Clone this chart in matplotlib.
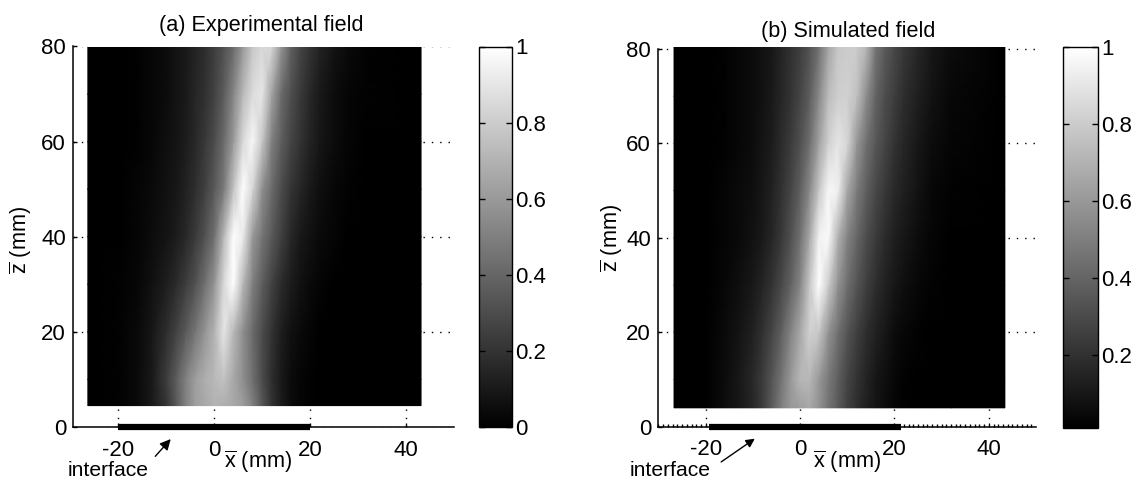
from matplotlib import pyplot as plt
import matplotlib
import numpy as np

matplotlib.rcParams.update({'font.family': 'Liberation Sans', 'font.size': 13,
                            'axes.unicode_minus': False,
                            'mathtext.fontset': 'custom',
                            'mathtext.rm': 'Liberation Sans',
                            'mathtext.it': 'Liberation Sans'})

# columns of the fields (mm), edges differ per panel
x_inner = [-20, -16, -13, -10, -8, -6, -4, -2, 0, 2, 4, 6, 8, 10, 12, 14, 16, 18, 20, 22, 25, 28, 32]
x_edges_a = [-26.4, 43.2]
x_edges_b = [-26.7, 43.4]
z_rows_a = [4.5, 10, 20, 30, 40, 50, 60, 70, 80]
z_rows_b = [4, 10, 20, 30, 40, 50, 60, 70, 80.5]

# (a) experimental, read by eye row by row
a_z4 = [0, .01, .04, .10, .20, .34, .50, .62, .66, .70, .68, .66, .62, .50, .34, .20, .11, .05, .02, .01, 0, 0, 0, 0, 0]
a_z10 = [0, .01, .04, .10, .24, .36, .50, .62, .68, .72, .76, .66, .56, .44, .30, .18, .10, .05, .02, .01, 0, 0, 0, 0, 0]
a_z20 = [0, .01, .04, .09, .18, .26, .35, .46, .58, .70, .90, .72, .56, .42, .30, .20, .12, .07, .04, .02, 0, 0, 0, 0, 0]
a_z30 = [0, .01, .03, .07, .12, .17, .24, .32, .44, .58, .85, 1, .72, .50, .37, .26, .17, .11, .07, .04, .02, 0, 0, 0, 0]
a_z40 = [0, 0, .02, .05, .08, .11, .16, .23, .32, .44, .72, 1, .92, .60, .46, .35, .25, .16, .10, .07, .04, .02, 0, 0, 0]
a_z50 = [0, 0, .02, .04, .07, .09, .13, .18, .25, .35, .48, .76, 1, .84, .56, .42, .30, .21, .15, .10, .06, .03, .01, 0, 0]
a_z60 = [0, 0, .01, .03, .06, .08, .11, .16, .22, .30, .42, .60, .85, .97, .78, .50, .37, .27, .20, .14, .09, .05, .02, 0, 0]
a_z70 = [0, 0, .01, .03, .05, .08, .10, .15, .19, .26, .36, .52, .72, .86, .90, .64, .42, .31, .23, .16, .10, .05, .02, .01, 0]
a_z80 = [0, 0, .01, .03, .05, .08, .10, .14, .18, .24, .32, .42, .60, .78, .85, .84, .58, .38, .27, .20, .14, .08, .04, .01, 0]

# (b) simulated
b_z4 = [0, .01, .06, .10, .16, .24, .36, .50, .60, .62, .66, .58, .46, .36, .26, .19, .13, .09, .06, .03, .02, .01, 0, 0, 0]
b_z10 = [0, .01, .06, .10, .17, .24, .34, .46, .60, .72, .72, .60, .48, .38, .28, .21, .15, .10, .07, .04, .02, .01, 0, 0, 0]
b_z20 = [0, .01, .05, .09, .14, .20, .28, .38, .52, .66, .82, .78, .58, .45, .34, .26, .19, .14, .10, .06, .04, .02, .01, 0, 0]
b_z30 = [0, .01, .04, .07, .11, .15, .21, .29, .39, .53, .78, 1, .80, .58, .44, .34, .26, .19, .14, .10, .07, .04, .02, .01, 0]
b_z40 = [0, .01, .03, .05, .08, .11, .16, .23, .32, .45, .66, .95, .98, .70, .52, .41, .31, .24, .18, .13, .10, .06, .03, .01, 0]
b_z50 = [0, .01, .03, .05, .07, .10, .14, .20, .28, .38, .54, .78, .97, .94, .66, .49, .38, .29, .23, .17, .13, .08, .04, .02, 0]
b_z60 = [0, .01, .02, .04, .06, .09, .12, .18, .24, .32, .44, .64, .82, .90, .84, .60, .45, .35, .28, .21, .16, .10, .06, .03, 0]
b_z70 = [0, 0, .02, .04, .06, .08, .11, .16, .21, .28, .37, .54, .74, .81, .82, .76, .56, .40, .31, .25, .19, .13, .08, .04, 0]
b_z80 = [0, 0, .02, .04, .06, .08, .10, .15, .20, .25, .33, .45, .65, .78, .80, .80, .72, .47, .36, .29, .23, .16, .10, .06, 0]

x_ticks = [-20, 0, 20, 40]
z_ticks = [0, 20, 40, 60, 80]
cbar_ticks_a = [0, .2, .4, .6, .8, 1]
cbar_ticks_b = [.2, .4, .6, .8, 1]
cbar_labels_a = ['0', '0.2', '0.4', '0.6', '0.8', '1']
cbar_labels_b = ['0.2', '0.4', '0.6', '0.8', '1']
interface_a = [-20, 20]
interface_b = [-19.3, 21.4]

W, H = 1131, 480

def box(left, top, right, bottom):
    return [left/W, 1-bottom/H, (right-left)/W, (bottom-top)/H]

def put(x, y, s, **kw):
    fig.text(x/W, 1-y/H, s, ha='center', va='center', **kw)

def panel(ax_box, cax_box, x_edges, z_rows, rows, xlim, zlim, bar, ticks, labels, vmin, pad):
    ax = fig.add_axes(box(*ax_box))
    cax = fig.add_axes(box(*cax_box))
    xs = [x_edges[0]] + x_inner + [x_edges[1]]
    im = ax.pcolormesh(xs, z_rows, np.array(rows), cmap='gray', vmin=vmin, vmax=1,
                       shading='gouraud', zorder=2, rasterized=True)
    ax.set_xlim(xlim)
    ax.set_ylim(zlim)
    ax.set_xticks(x_ticks)
    ax.set_yticks(z_ticks)
    ax.tick_params(direction='in', length=3, width=1, labelsize=16, pad=5)
    ax.tick_params(axis='x', pad=pad)
    ax.grid(True, linestyle=(0, (1, 5)), color='k', linewidth=1)
    ax.set_axisbelow(True)
    ax.spines['top'].set_visible(False)
    ax.spines['right'].set_visible(False)
    ax.spines['left'].set_bounds(0, 80)
    ax.spines['left'].set_linewidth(1.1)
    ax.spines['bottom'].set_linewidth(1.1)
    # thick bar on the axis marks the interface
    ax.plot(bar, [0, 0], color='k', linewidth=4.5, solid_capstyle='butt', clip_on=False, zorder=5)
    cb = fig.colorbar(im, cax=cax)
    cb.set_ticks(ticks)
    cb.set_ticklabels(labels)
    cax.tick_params(direction='in', length=4, width=1, left=True, right=True, labelsize=16, pad=2.5)
    cb.outline.set_linewidth(1)
    return ax

fig = plt.figure(figsize=(W/100, H/100), dpi=100)

ax1 = panel((73, 46.5, 453.6, 427), (478.6, 46.5, 512, 427), x_edges_a, z_rows_a,
            [a_z4, a_z10, a_z20, a_z30, a_z40, a_z50, a_z60, a_z70, a_z80],
            (-29.5, 50), (0, 80), interface_a, cbar_ticks_a, cbar_labels_a, 0, 9)
ax2 = panel((658, 46.7, 1036, 426.7), (1063, 47, 1097.5, 428), x_edges_b, z_rows_b,
            [b_z4, b_z10, b_z20, b_z30, b_z40, b_z50, b_z60, b_z70, b_z80],
            (-30.1, 50), (0, 80.5), interface_b, cbar_ticks_b, cbar_labels_b, 0.01, 9)
ax2.set_xticks(np.arange(-30, 50, 1), minor=True)
ax2.tick_params(which='minor', direction='in', length=2, width=1)

put(261, 25, '(a) Experimental field', fontsize=15.6)
put(848.6, 31, '(b) Simulated field', fontsize=15.6)
put(258, 462, r'$\overline{\mathrm{x}}$ (mm)', fontsize=15.6)
put(847, 462, r'$\overline{\mathrm{x}}$ (mm)', fontsize=15.6)
put(21, 240, r'$\overline{\mathrm{z}}$ (mm)', fontsize=15.6, rotation=90)
put(612, 238, r'$\overline{\mathrm{z}}$ (mm)', fontsize=15.6, rotation=90)
put(108, 470, 'interface', fontsize=15.2)
put(670, 470, 'interface', fontsize=15.2)

ax1.annotate('', xy=(-8.7, -2.1), xytext=(-12.7, -6.6), annotation_clip=False,
             arrowprops=dict(arrowstyle='-|>', color='k', lw=1, mutation_scale=16))
ax2.annotate('', xy=(-9.1, -2.2), xytext=(-17.2, -7.8), annotation_clip=False,
             arrowprops=dict(arrowstyle='-|>', color='k', lw=1, mutation_scale=13))

plt.savefig('out.png', dpi=100)
